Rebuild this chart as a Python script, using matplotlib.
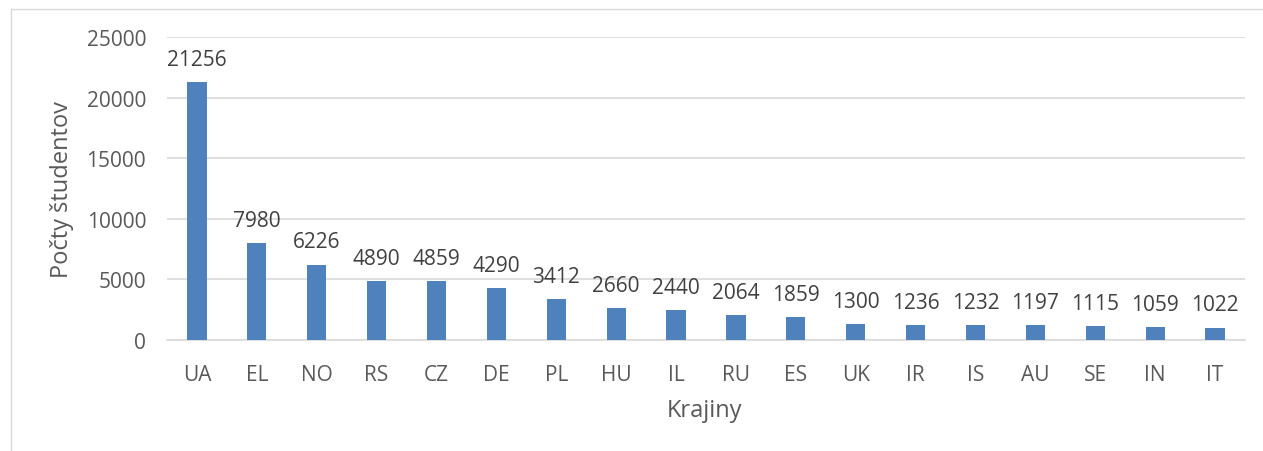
import numpy as np
import matplotlib.pyplot as plt
from matplotlib.lines import Line2D

# Data
krajiny = ["UA", "EL", "NO", "RS", "CZ", "DE", "PL", "HU", "IL", "RU",
           "ES", "UK", "IR", "IS", "AU", "SE", "IN", "IT"]
studenti = [21256, 7980, 6226, 4890, 4859, 4290, 3412, 2660, 2440, 2064,
            1859, 1300, 1236, 1232, 1197, 1115, 1059, 1022]
y_ticks = [0, 5000, 10000, 15000, 20000, 25000]

plt.rcParams["font.family"] = ["Open Sans", "DejaVu Sans"]
text_color = "#595959"

fig = plt.figure(figsize=(12.63, 4.52), dpi=100)
ax = fig.add_axes([167 / 1263, 1 - 341 / 452, 1078 / 1263, 303 / 452])

x = np.arange(len(krajiny))
bars = ax.bar(x, studenti, width=0.32, color="#4F81BD", zorder=3)

# Value labels above bars
for xi, v in zip(x, studenti):
    ax.text(xi, v + 1000, str(v), ha="center", va="bottom",
            fontsize=15, color="#404040")

ax.set_xlim(-0.5, len(krajiny) - 0.5)
ax.set_ylim(0, 25000)
ax.set_yticks(y_ticks)
ax.set_xticks(x)
ax.set_xticklabels(krajiny)
ax.grid(axis="y", color="#D9D9D9", linewidth=1.2, zorder=0)
ax.tick_params(axis="both", length=0, labelsize=15, labelcolor=text_color)
ax.tick_params(axis="x", pad=17)
ax.tick_params(axis="y", pad=15)
for s in ["top", "right", "left"]:
    ax.spines[s].set_visible(False)
ax.spines["bottom"].set_color("#D9D9D9")
ax.spines["bottom"].set_linewidth(1.2)

ax.set_xlabel("Krajiny", fontsize=17, color=text_color, va="center")
ax.set_ylabel("Počty študentov", fontsize=17, color=text_color, va="center")
ax.xaxis.set_label_coords(0.499, -0.23)
ax.yaxis.set_label_coords(-0.0974, 0.5)

# Outer chart frame (top and left edge visible)
fig.add_artist(Line2D([11 / 1263, 1], [1 - 10 / 452, 1 - 10 / 452],
                      transform=fig.transFigure, color="#D9D9D9", lw=1))
fig.add_artist(Line2D([11 / 1263, 11 / 1263], [0, 1 - 10 / 452],
                      transform=fig.transFigure, color="#D9D9D9", lw=1))

fig.savefig("out.png", dpi=100)
